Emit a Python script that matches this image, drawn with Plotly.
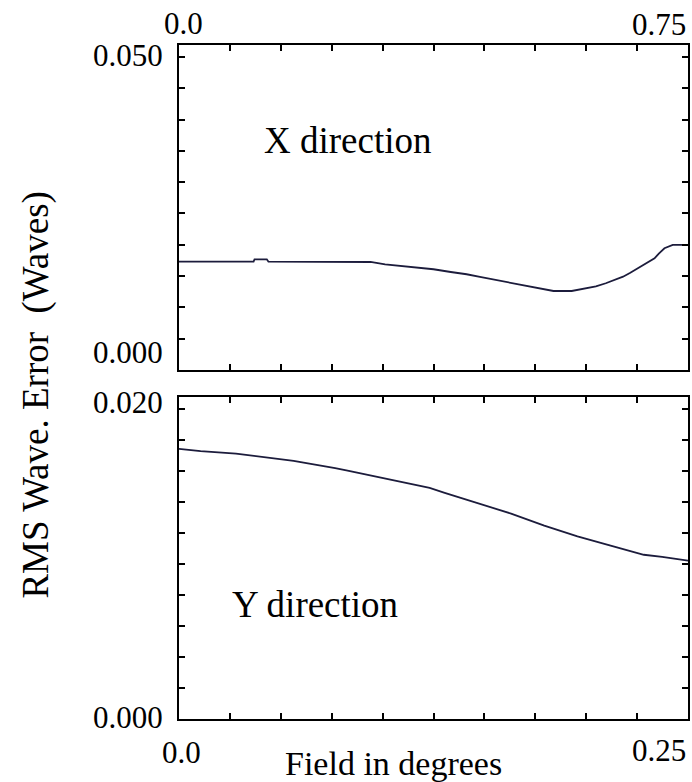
import plotly.graph_objects as go

# ---- data ----
# X direction: field (0..0.75 deg), RMS wavefront error (waves)
x_dir_field = [0.0, 0.1099, 0.1113, 0.1294, 0.1318, 0.2051, 0.2822, 0.3037, 0.3442, 0.375, 0.4004,
               0.4238, 0.4434, 0.4614, 0.48, 0.498, 0.5151, 0.5322, 0.5518, 0.5786, 0.5981,
               0.6143, 0.6289, 0.6406, 0.6543, 0.665, 0.6763, 0.6885, 0.7007, 0.707, 0.7153,
               0.7275, 0.75]
x_dir_rms = [0.0173, 0.0173, 0.01768, 0.01768, 0.0173, 0.01725, 0.01725, 0.01688, 0.01645, 0.01609, 0.01565,
             0.01529, 0.01486, 0.01449, 0.01411, 0.01374, 0.01337, 0.01299, 0.01262, 0.01262, 0.01299,
             0.01337, 0.01385, 0.01433, 0.0149, 0.01554, 0.01625, 0.01704, 0.01784, 0.0186, 0.01944,
             0.01997, 0.01997]

# Y direction: field (0..0.25 deg), RMS wavefront error (waves)
y_dir_field = [0.0, 0.0106, 0.028, 0.0391, 0.0481, 0.0563, 0.0633, 0.0698, 0.0767, 0.0828,
               0.0881, 0.0938, 0.0995, 0.1052, 0.1114, 0.1174, 0.1231, 0.1305, 0.1468, 0.1631,
               0.1794, 0.1957, 0.212, 0.2283, 0.2373, 0.2476, 0.25]
y_dir_rms = [0.01745, 0.0173, 0.01715, 0.01698, 0.01683, 0.01668, 0.01652, 0.01638, 0.0162, 0.01605,
             0.0159, 0.01575, 0.01558, 0.01542, 0.01526, 0.0151, 0.01493, 0.01461, 0.01396, 0.01327,
             0.01249, 0.0118, 0.0112, 0.01061, 0.01047, 0.01029, 0.01023]

top_x_labels = ["0.0", "0.75"]
bottom_x_labels = ["0.0", "0.25"]
top_y_labels = ["0.050", "0.000"]
bottom_y_labels = ["0.020", "0.000"]

FONT = "Liberation Serif, Times New Roman, serif"
LINE = "#1c1c3c"

fig = go.Figure()
fig.add_trace(go.Scatter(x=x_dir_field, y=x_dir_rms, mode="lines",
                         line=dict(color=LINE, width=1.8), xaxis="x", yaxis="y",
                         showlegend=False, hoverinfo="skip"))
fig.add_trace(go.Scatter(x=y_dir_field, y=y_dir_rms, mode="lines",
                         line=dict(color=LINE, width=1.8), xaxis="x2", yaxis="y2",
                         showlegend=False, hoverinfo="skip"))

axis_common = dict(showline=True, linecolor="black", linewidth=2, mirror="allticks",
                   ticks="inside", ticklen=6, tickwidth=2, tickcolor="black",
                   showticklabels=False, showgrid=False, zeroline=False, fixedrange=True)

fig.update_layout(
    width=692, height=782,
    margin=dict(l=179, r=2, t=45, b=63),
    paper_bgcolor="white", plot_bgcolor="white",
    font=dict(family=FONT, color="black"),
    xaxis=dict(domain=[0, 1], range=[0, 0.75], dtick=0.075, tick0=0, anchor="y", **axis_common),
    yaxis=dict(domain=[0.5178, 1], range=[0, 0.0519], dtick=0.005, tick0=0, anchor="x", **axis_common),
    xaxis2=dict(domain=[0, 1], range=[0, 0.25], dtick=0.025, tick0=0, anchor="y2", **axis_common),
    yaxis2=dict(domain=[0, 0.4777], range=[0, 0.0208], dtick=0.002, tick0=0, anchor="x2", **axis_common),
)

def ann(text, x, y, size, xanchor="center", yanchor="middle", angle=0):
    fig.add_annotation(text=text, x=x, y=y, xref="paper", yref="paper",
                       xanchor=xanchor, yanchor=yanchor, showarrow=False,
                       textangle=angle, font=dict(family=FONT, size=size, color="black"))

TICK = 31
ann(top_x_labels[0], 0.0098, 1.032, TICK)
ann(top_x_labels[1], 1.0, 1.030, TICK, xanchor="right")
ann(top_y_labels[0], -0.027, 0.985, TICK, xanchor="right")
ann(top_y_labels[1], -0.027, 0.5445, TICK, xanchor="right")
ann(bottom_y_labels[0], -0.027, 0.4703, TICK, xanchor="right")
ann(bottom_y_labels[1], -0.027, 0.0015, TICK, xanchor="right")
ann(bottom_x_labels[0], 0.004, -0.049, TICK)
ann(bottom_x_labels[1], 1.0, -0.046, TICK, xanchor="right")

ann("Field in degrees", 0.421, -0.0665, 34)
ann("X direction", 0.331, 0.859, 37)
ann("Y direction", 0.268, 0.1706, 37)
ann("RMS Wave. Error  (Waves)", -0.2818, 0.4807, 37, angle=-90)

fig.write_html("out.html", config={"displayModeBar": False},
               post_script="document.body.style.margin='0px';document.body.style.overflow='hidden';")
